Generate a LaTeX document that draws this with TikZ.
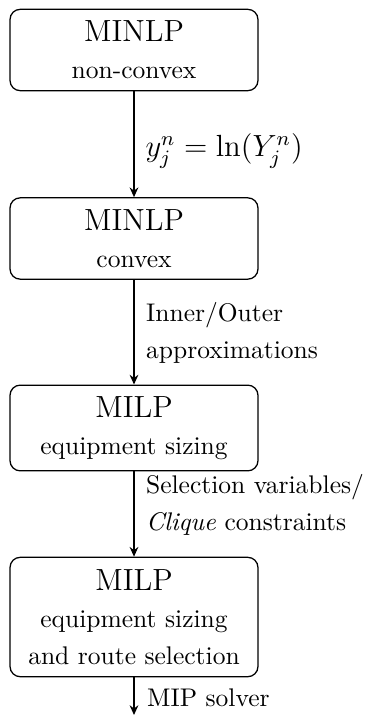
\documentclass[tikz,border=0pt]{standalone}
\usetikzlibrary{arrows.meta}
\begin{document}
\begin{tikzpicture}[x=0.392pt,y=-0.392pt,
  stage/.style={draw,rounded corners=4pt,inner sep=0pt,align=center,
    minimum width=97.2pt,line width=0.5pt},
  flow/.style={-{Stealth[length=3.8pt,width=3.4pt]},line width=0.8pt},
  lbl/.style={anchor=base west,inner sep=0pt,align=left}]
\useasboundingbox (0,0) rectangle (372,715);

\node[stage,minimum height=31.9pt] (s1) at (134,50)
  {{\large MINLP}\\[2.5pt] non-convex};
\node[stage,minimum height=31.9pt] (s2) at (134,238.5)
  {{\large MINLP}\\[2.5pt] convex};
\node[stage,minimum height=33.6pt] (s3) at (134,428)
  {{\large MILP}\\[2.5pt] equipment sizing};
\node[stage,minimum height=46.8pt] (s4) at (134,617)
  {{\large MILP}\\[2.5pt] equipment sizing\\[2.5pt] and route selection};
\coordinate (out) at (134,715);

\draw[flow] (s1.south) -- (s2.north);
\draw[flow] (s2.south) -- (s3.north);
\draw[flow] (s3.south) -- (s4.north);
\draw[flow] (s4.south) -- (out);

\node[lbl] (l1) at (145,157) {\large $y^n_j=\ln(Y^n_j)$};
\node[lbl] (l2a) at (145.7,321.7) {Inner/Outer};
\node[lbl] (l2b) at (145.7,358) {approximations};
\node[lbl] (l3a) at (145.6,493) {Selection variables/};
\node[lbl] (l3b) at (145.6,530) {\textit{Clique} constraints};
\node[lbl] (l4) at (146.7,706.7) {MIP solver};
\end{tikzpicture}
\end{document}
